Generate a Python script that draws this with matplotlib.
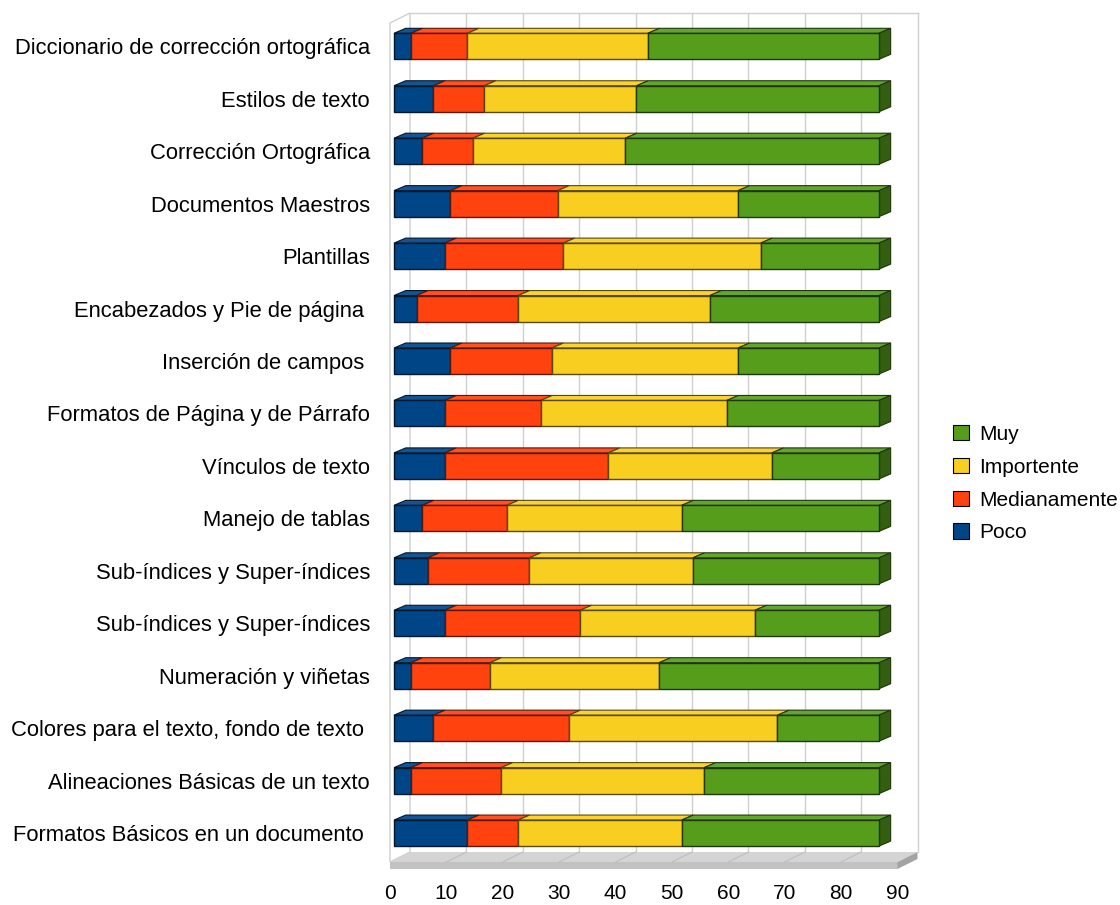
import matplotlib.pyplot as plt
from matplotlib.patches import Polygon, Patch
import numpy as np

plt.rcParams['font.family'] = ['Liberation Sans', 'DejaVu Sans']

# temas, de arriba hacia abajo
temas = ['Diccionario de corrección ortográfica', 'Estilos de texto',
         'Corrección Ortográfica', 'Documentos Maestros', 'Plantillas',
         'Encabezados y Pie de página ', 'Inserción de campos ',
         'Formatos de Página y de Párrafo', 'Vínculos de texto',
         'Manejo de tablas', 'Sub-índices y Super-índices',
         'Sub-índices y Super-índices', 'Numeración y viñetas',
         'Colores para el texto, fondo de texto ',
         'Alineaciones Básicas de un texto', 'Formatos Básicos en un documento ']
poco = [3, 7, 5, 10, 9, 4, 10, 9, 9, 5, 6, 9, 3, 7, 3, 13]
medianamente = [10, 9, 9, 19, 21, 18, 18, 17, 29, 15, 18, 24, 14, 24, 16, 9]
importente = [32, 27, 27, 32, 35, 34, 33, 33, 29, 31, 29, 31, 30, 37, 36, 29]
muy = [41, 43, 45, 25, 21, 30, 25, 27, 19, 35, 33, 22, 39, 18, 31, 35]
series = ['Poco', 'Medianamente', 'Importente', 'Muy']
colores = ['#004586', '#ff420e', '#f8cf20', '#579d1c']
xticks = list(range(0, 100, 10))

fig = plt.figure(figsize=(11.2, 9.05), dpi=100)
ax = fig.add_axes([390 / 1120, 36 / 905, 507.5 / 1120, 856 / 905])
ax.set_xlim(0, 90)
ax.set_ylim(15.685, -0.635)

# profundidad "3D" en unidades de datos
fdx, fdy = 3.547, -0.1907      # suelo / pared
bdx, bdy = 2.075, -0.0953      # barras
x0 = 0.709                     # cara frontal de las barras
h = 0.496
floor_top, floor_bot = 15.552, 15.685
wall_top = -0.635


def shade(c, f):
    rgb = np.array(plt.matplotlib.colors.to_rgb(c))
    if f < 1:
        return tuple(rgb * f)
    return tuple(rgb + (1 - rgb) * (f - 1))


# pared del fondo y lateral
grid_c = '#cfcfcf'
back_y = floor_top + fdy
ax.add_patch(Polygon([(0, floor_top), (0, wall_top - fdy), (fdx, wall_top), (fdx, back_y)],
                     closed=True, fc='white', ec=grid_c, lw=1, zorder=0, clip_on=False))
ax.plot([fdx, 90 + fdx], [wall_top, wall_top], color=grid_c, lw=1, zorder=0, clip_on=False)
for t in xticks[1:]:
    ax.plot([t + fdx, t + fdx], [back_y, wall_top], color=grid_c, lw=1, zorder=0, clip_on=False)

# suelo
ax.add_patch(Polygon([(0, floor_top), (90, floor_top), (90 + fdx, back_y), (fdx, back_y)],
                     closed=True, fc='#d4d4d4', ec='none', zorder=1, clip_on=False))
ax.add_patch(Polygon([(0, floor_top), (90, floor_top), (90, floor_bot), (0, floor_bot)],
                     closed=True, fc='#c2c2c2', ec='none', zorder=1, clip_on=False))
ax.add_patch(Polygon([(90, floor_top), (90 + fdx, back_y), (90 + fdx, back_y + 0.133), (90, floor_bot)],
                     closed=True, fc='#a3a3a3', ec='none', zorder=1, clip_on=False))
for t in xticks[1:-1]:
    ax.plot([t, t + fdx], [floor_top, back_y], color='#bdbdbd', lw=0.8, zorder=1)

# barras apiladas
y = np.arange(len(temas))
datos = [poco, medianamente, importente, muy]
left = np.zeros(len(temas))
for k, (nombre, vals, c) in enumerate(zip(series, datos, colores)):
    vals = np.array(vals, dtype=float)
    ax.barh(y, vals, left=left + x0, height=h, color=c, edgecolor=shade(c, 0.35),
            linewidth=1, zorder=3)
    for yi, l, v in zip(y, left, vals):
        a, b = l + x0, l + x0 + v
        top = yi - h / 2
        ax.add_patch(Polygon([(a, top), (b, top), (b + bdx, top + bdy), (a + bdx, top + bdy)],
                             closed=True, fc=shade(c, 1.08), ec=shade(c, 0.35), lw=0.8, zorder=2))
        if k == len(series) - 1:
            ax.add_patch(Polygon([(b, top), (b + bdx, top + bdy), (b + bdx, top + bdy + h), (b, top + h)],
                                 closed=True, fc=shade(c, 0.6), ec=shade(c, 0.35), lw=0.8, zorder=2))
    left += vals

for s in ax.spines.values():
    s.set_visible(False)
ax.set_xticks(xticks)
ax.set_xticklabels([str(t) for t in xticks], fontsize=15)
ax.set_yticks(y)
ax.set_yticklabels(temas, fontsize=15.8)
ax.tick_params(axis='x', length=0, pad=11)
ax.tick_params(axis='y', length=0, pad=14.4)

handles = [Patch(fc=c, ec='black', lw=0.8) for c in colores[::-1]]
fig.legend(handles, series[::-1], loc='upper left', bbox_to_anchor=(953 / 1120, 1 - 425 / 905),
           frameon=False, fontsize=15, handlelength=0.75, handleheight=0.75,
           handletextpad=0.5, labelspacing=0.66, borderpad=0, borderaxespad=0)

fig.savefig('out.png', dpi=100)
